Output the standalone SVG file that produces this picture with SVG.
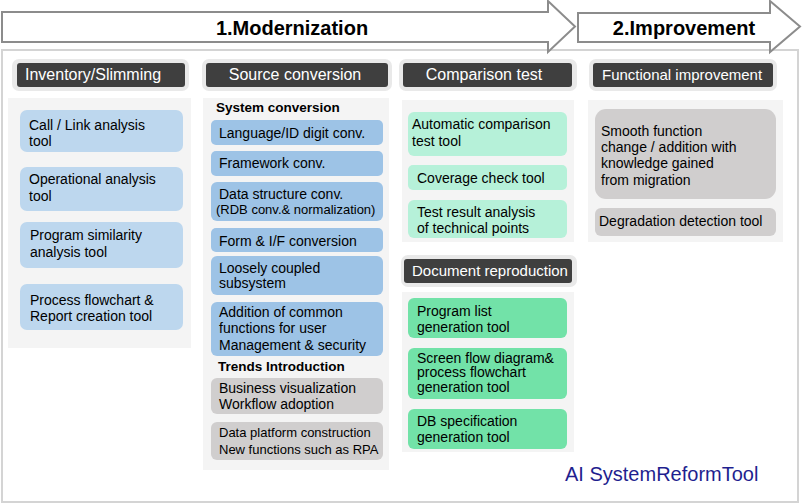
<svg xmlns="http://www.w3.org/2000/svg" width="802" height="504" viewBox="0 0 802 504">
<style>
text{font-family:"Liberation Sans",Arial,sans-serif;fill:#000;font-size:14px}
.ttl{font-size:20px;font-weight:bold}
.hdr{font-size:16px;fill:#fff}
.h15{font-size:15px}
.sub{font-size:13.5px;font-weight:bold}
.s13{font-size:13px}
.brand{font-size:20px;fill:#1f1f8f}
.halo{fill:#e9e9e9}
.dark{fill:#3f3f3f}
.pnl{fill:#f4f4f4}
.b1{fill:#bdd7ee}
.b2{fill:#9dc3e6}
.gr{fill:#d0cece}
.mint{fill:#b6f1d9}
.grn{fill:#72e2a8}
.arrow{fill:#fff;stroke:#8c8c8c;stroke-width:2}
</style>
<rect x="2" y="50" width="796" height="452" fill="#fff" stroke="#d4d4d4" stroke-width="2"/>
<g id="connectors">
<polygon class="arrow" points="2,12 548,12 548,1 575,26.5 548,52 548,42 2,42"/>
<polygon class="arrow" points="578,13 770,13 770,1 800,26.5 770,52 770,42 578,42"/>
</g>
<text class="ttl" x="292" y="35" text-anchor="middle">1.Modernization</text>
<text class="ttl" x="684" y="35" text-anchor="middle">2.Improvement</text>

<g id="col1">
<rect class="halo" x="12" y="59" width="177" height="32" rx="7"/>
<rect class="dark" x="17" y="63" width="168" height="24" rx="3"/>
<text class="hdr" x="25" y="80">Inventory/Slimming</text>
<rect class="pnl" x="8" y="98" width="183" height="250"/>
<g id="n1"><rect class="b1" x="20" y="110" width="163" height="42" rx="7"/><text x="29" y="130">Call / Link analysis</text><text x="29" y="146">tool</text></g>
<g id="n2"><rect class="b1" x="20" y="167" width="163" height="44" rx="7"/><text x="29" y="184">Operational analysis</text><text x="29" y="201">tool</text></g>
<g id="n3"><rect class="b1" x="20" y="222" width="163" height="46" rx="7"/><text x="30" y="240">Program similarity</text><text x="30" y="257">analysis tool</text></g>
<g id="n4"><rect class="b1" x="20" y="284" width="163" height="46" rx="7"/><text x="30" y="305">Process flowchart &amp;</text><text x="30" y="321">Report creation tool</text></g>
</g>

<g id="col2">
<rect class="halo" x="202" y="59" width="190" height="32" rx="7"/>
<rect class="dark" x="206" y="63" width="182" height="24" rx="3"/>
<text class="hdr" x="295" y="80" text-anchor="middle">Source conversion</text>
<rect class="pnl" x="203" y="98" width="186" height="372"/>
<text class="sub" x="216" y="112">System conversion</text>
<g id="n5"><rect class="b2" x="211" y="120" width="172" height="25" rx="5"/><text x="219" y="138">Language/ID digit conv.</text></g>
<g id="n6"><rect class="b2" x="211" y="151" width="172" height="25" rx="5"/><text x="219" y="168">Framework conv.</text></g>
<g id="n7"><rect class="b2" x="211" y="182" width="172" height="39" rx="6"/><text x="219" y="199">Data structure conv.</text><text class="s13" x="216" y="214">(RDB conv.&amp; normalization)</text></g>
<g id="n8"><rect class="b2" x="211" y="228" width="172" height="24" rx="5"/><text x="219" y="246">Form &amp; I/F conversion</text></g>
<g id="n9"><rect class="b2" x="211" y="256" width="172" height="39" rx="6"/><text x="219" y="273">Loosely coupled</text><text x="219" y="288">subsystem</text></g>
<g id="n10"><rect class="b2" x="211" y="302" width="172" height="54" rx="6"/><text x="219" y="317">Addition of common</text><text x="219" y="333">functions for user</text><text x="219" y="350">Management &amp; security</text></g>
<text class="sub" x="218" y="371">Trends Introduction</text>
<g id="n11"><rect class="gr" x="211" y="378" width="172" height="36" rx="6"/><text x="219" y="393">Business visualization</text><text x="219" y="409">Workflow adoption</text></g>
<g id="n12"><rect class="gr" x="211" y="422" width="172" height="38" rx="6"/><text class="s13" x="219" y="437">Data platform construction</text><text class="s13" x="219" y="454">New functions such as RPA</text></g>
</g>

<g id="col3">
<rect class="halo" x="399" y="59" width="178" height="32" rx="7"/>
<rect class="dark" x="403" y="63" width="169" height="24" rx="3"/>
<text class="hdr" x="484" y="80" text-anchor="middle">Comparison test</text>
<rect class="pnl" x="402" y="100" width="172" height="142"/>
<g id="n13"><rect class="mint" x="408" y="112" width="159" height="44" rx="6"/><text x="412" y="129">Automatic comparison</text><text x="412" y="146">test tool</text></g>
<g id="n14"><rect class="mint" x="408" y="165" width="159" height="25" rx="5"/><text x="417" y="183">Coverage check tool</text></g>
<g id="n15"><rect class="mint" x="408" y="200" width="159" height="38" rx="6"/><text x="417" y="217">Test result analysis</text><text x="417" y="233">of technical points</text></g>
</g>

<g id="col3b">
<rect class="halo" x="401" y="255" width="176" height="32" rx="7"/>
<rect class="dark" x="404" y="259" width="168" height="24" rx="3"/>
<text class="hdr h15" x="412" y="276">Document reproduction</text>
<rect class="pnl" x="402" y="292" width="172" height="160"/>
<g id="n16"><rect class="grn" x="408" y="298" width="159" height="40" rx="6"/><text x="417" y="316">Program list</text><text x="417" y="332">generation tool</text></g>
<g id="n17"><rect class="grn" x="408" y="348" width="159" height="51" rx="6"/><text x="417" y="363">Screen flow diagram&amp;</text><text x="417" y="377">process flowchart</text><text x="417" y="392">generation tool</text></g>
<g id="n18"><rect class="grn" x="408" y="409" width="159" height="40" rx="6"/><text x="417" y="426">DB specification</text><text x="417" y="442">generation tool</text></g>
</g>

<g id="col4">
<rect class="halo" x="589" y="59" width="188" height="32" rx="7"/>
<rect class="dark" x="593" y="63" width="180" height="24" rx="3"/>
<text class="hdr h15" x="602" y="80">Functional improvement</text>
<rect class="pnl" x="588" y="100" width="195" height="142"/>
<g id="n19"><rect class="gr" x="595" y="109" width="181" height="90" rx="11"/><text x="601" y="136">Smooth function</text><text x="601" y="152">change / addition with</text><text x="601" y="168">knowledge gained</text><text x="601" y="185">from migration</text></g>
<g id="n20"><rect class="gr" x="595" y="208" width="181" height="28" rx="6"/><text x="599" y="226">Degradation detection tool</text></g>
</g>

<text class="brand" x="565" y="481">AI SystemReformTool</text>
</svg>
